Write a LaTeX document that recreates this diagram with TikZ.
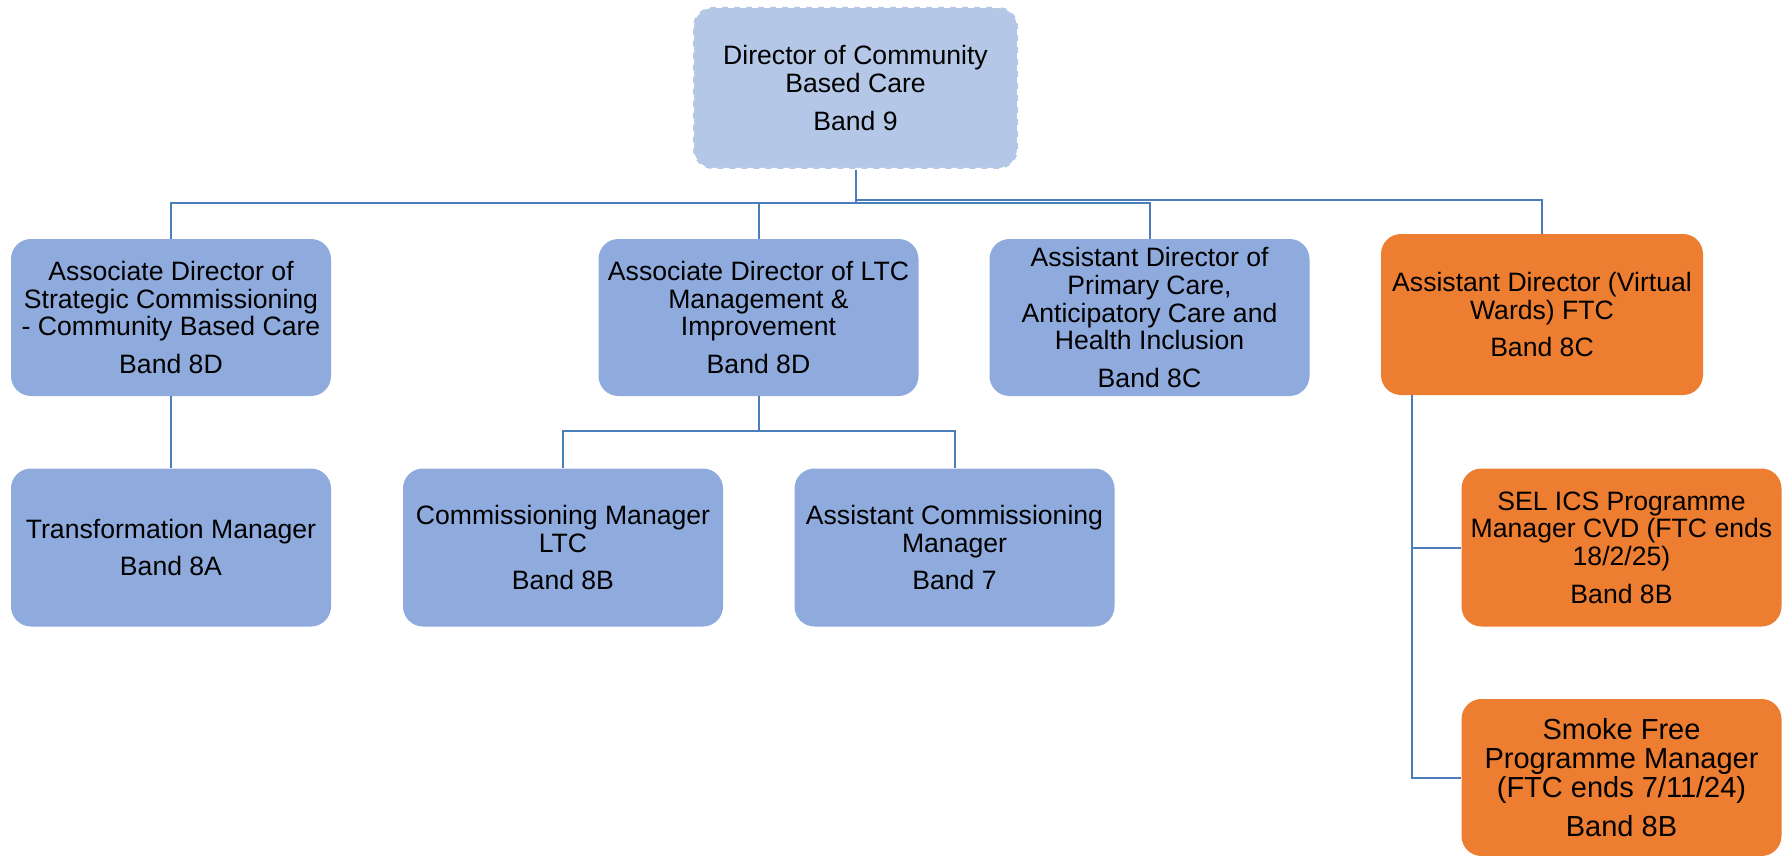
\documentclass[tikz,border=0pt]{standalone}
\usepackage{fontspec}
\setmainfont{Liberation Sans}
\usetikzlibrary{calc}
\definecolor{boxblue}{RGB}{143,170,220}
\definecolor{topblue}{RGB}{180,199,231}
\definecolor{boxorange}{RGB}{237,125,49}
\definecolor{connblue}{RGB}{74,126,187}
\tikzset{
  orgbox/.style={rounded corners=10pt, align=center, inner sep=0pt, text=black,
    font=\fontsize{13.3pt}{13.8pt}\selectfont, minimum width=160pt, minimum height=79pt},
  bluebox/.style={orgbox, fill=boxblue},
  orangebox/.style={orgbox, fill=boxorange},
  topbox/.style={orgbox, fill=topblue, draw=white, dashed, line width=1pt},
  conn/.style={draw=connblue, line width=1pt}
}
\begin{document}
\begin{tikzpicture}[x=0.5pt,y=-0.5pt]
\useasboundingbox (0,0) rectangle (1790,856);
\node[topbox, minimum width=162.5pt, minimum height=81pt] (top) at (855.5,88) {Director of Community\\Based Care\\[5pt]Band 9};
\node[bluebox, minimum height=78.5pt] (A) at (171,317.5) {Associate Director of\\Strategic Commissioning\\- Community Based Care\\[5pt]Band 8D};
\node[bluebox, minimum height=78.5pt] (B) at (758.5,317.5) {Associate Director of LTC\\Management \&\\Improvement\\[5pt]Band 8D};
\node[bluebox, minimum height=78.5pt] (C) at (1149.5,317.5) {Assistant Director of\\Primary Care,\\Anticipatory Care and\\Health Inclusion\\[5pt]Band 8C};
\node[orangebox, minimum width=161pt, minimum height=80.5pt] (D) at (1542,314.5) {Assistant Director (Virtual\\Wards) FTC\\[5pt]Band 8C};
\node[bluebox] (E) at (171,547.5) {Transformation Manager\\[5pt]Band 8A};
\node[bluebox] (F) at (563,547.5) {Commissioning Manager\\LTC\\[5pt]Band 8B};
\node[bluebox] (G) at (954.5,547.5) {Assistant Commissioning\\Manager\\[5pt]Band 7};
\node[orangebox] (H) at (1621.5,547.5) {SEL ICS Programme\\Manager CVD (FTC ends\\18/2/25)\\[5pt]Band 8B};
\node[orangebox, minimum height=78.5pt, font=\fontsize{14.5pt}{14.6pt}\selectfont] (I) at (1621.5,777.5) {Smoke Free\\Programme Manager\\(FTC ends 7/11/24)\\[5pt]Band 8B};
\coordinate (bus) at (0,203);
\coordinate (busR) at (0,200);
\coordinate (bus2) at (0,431);
\coordinate (dv) at (1412,0);
\draw[conn] (top.south) -- (top.south |- bus) -| (A.north);
\draw[conn] (top.south |- bus) -| (B.north);
\draw[conn] (top.south |- bus) -| (C.north);
\draw[conn] (top.south |- busR) -| (D.north);
\draw[conn] (A.south) -- (E.north);
\draw[conn] (B.south) -- (B.south |- bus2) -| (F.north);
\draw[conn] (B.south |- bus2) -| (G.north);
\draw[conn] (dv |- D.south) |- (H.west);
\draw[conn] (dv |- D.south) |- (I.west);
\end{tikzpicture}
\end{document}
